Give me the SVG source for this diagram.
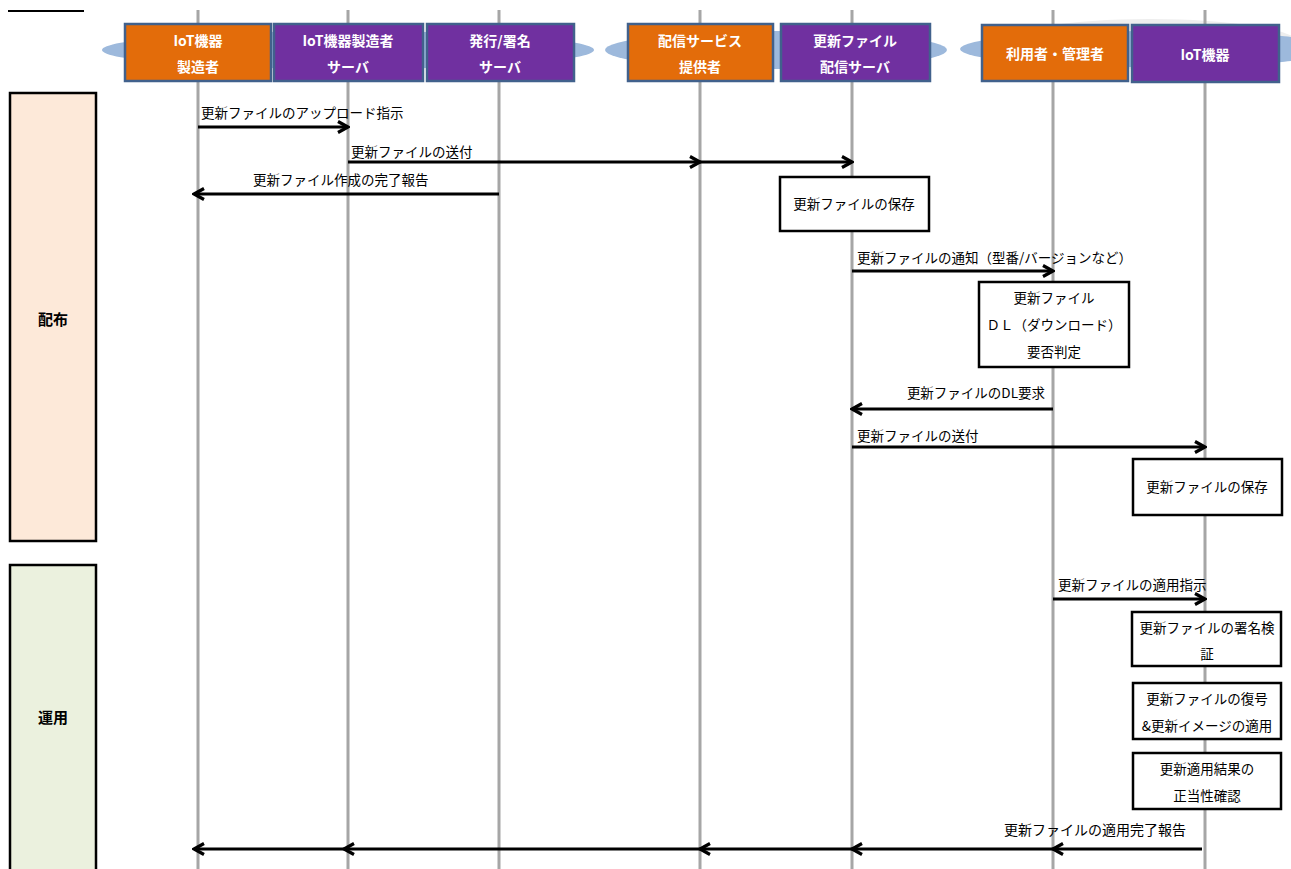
<svg xmlns="http://www.w3.org/2000/svg" width="1291" height="869" viewBox="0 0 1291 869">
  <defs>
    <marker id="arrow" viewBox="0 0 14 14" refX="12" refY="7" markerWidth="14" markerHeight="14" markerUnits="userSpaceOnUse" orient="auto">
      <path d="M2,1.5 L12,7 L2,12.5" fill="none" stroke="#000" stroke-width="3.2" stroke-linejoin="miter"/>
    </marker>
    <style>
      .lifeline { stroke: #A6A6A6; stroke-width: 3; }
      .band { fill: #9DB9DC; }
      .actor { stroke: #41618C; stroke-width: 2.5; }
      .org { fill: #E36C0A; }
      .sys { fill: #7030A0; }
      .hdr { font-family: "Noto Sans CJK JP", "Noto Sans", sans-serif; font-size: 14px; font-weight: bold; fill: #fff; text-anchor: middle; }
      .msg { stroke: #000; stroke-width: 3; fill: none; marker-end: url(#arrow); }
      .lbl { font-family: "Noto Sans CJK JP", "Noto Sans", sans-serif; font-size: 13.5px; fill: #000; }
      .step { fill: #fff; stroke: #000; stroke-width: 2.5; }
      .stxt { font-family: "Noto Sans CJK JP", "Noto Sans", sans-serif; font-size: 13.5px; fill: #000; text-anchor: middle; }
      .phase { stroke: #000; stroke-width: 2.5; }
      .ptxt { font-family: "Noto Sans CJK JP", "Noto Sans", sans-serif; font-size: 15px; font-weight: bold; fill: #000; text-anchor: middle; }
    </style>
  </defs>

  <!-- corner rule -->
  <line x1="8" y1="11" x2="84" y2="11" stroke="#000" stroke-width="2"/>

  <!-- phase panels -->
  <g id="phase-distribution">
    <rect class="phase" x="10" y="93" width="86" height="448" fill="#FDE9D9"/>
    <text class="ptxt" x="53" y="325">配布</text>
  </g>
  <g id="phase-operation">
    <rect class="phase" x="10" y="565" width="86" height="312" fill="#EBF1DE"/>
    <text class="ptxt" x="53" y="723">運用</text>
  </g>

  <!-- header bands -->
  <ellipse cx="1150" cy="44" rx="150" ry="25" fill="#EEEEEE"/>
  <ellipse class="band" cx="348" cy="50" rx="246" ry="19"/>
  <ellipse class="band" cx="776" cy="50" rx="171" ry="19"/>
  <ellipse class="band" cx="1150" cy="49" rx="190" ry="18"/>

  <!-- lifelines -->
  <g id="lifelines">
    <line class="lifeline" x1="198" y1="10" x2="198" y2="869"/>
    <line class="lifeline" x1="348" y1="10" x2="348" y2="869"/>
    <line class="lifeline" x1="499" y1="10" x2="499" y2="869"/>
    <line class="lifeline" x1="700" y1="10" x2="700" y2="869"/>
    <line class="lifeline" x1="852" y1="10" x2="852" y2="869"/>
    <line class="lifeline" x1="1053" y1="10" x2="1053" y2="869"/>
    <line class="lifeline" x1="1205" y1="10" x2="1205" y2="869"/>
  </g>

  <!-- participants -->
  <g id="actor-maker">
    <rect class="actor org" x="125" y="24" width="146" height="57"/>
    <text class="hdr" x="198" y="46">IoT機器</text>
    <text class="hdr" x="198" y="72">製造者</text>
  </g>
  <g id="actor-maker-server">
    <rect class="actor sys" x="274" y="24" width="149" height="57"/>
    <text class="hdr" x="348" y="46">IoT機器製造者</text>
    <text class="hdr" x="348" y="72">サーバ</text>
  </g>
  <g id="actor-sign-server">
    <rect class="actor sys" x="427" y="24" width="147" height="57"/>
    <text class="hdr" x="500" y="46">発行/署名</text>
    <text class="hdr" x="500" y="72">サーバ</text>
  </g>
  <g id="actor-provider">
    <rect class="actor org" x="628" y="24" width="145" height="57"/>
    <text class="hdr" x="700" y="46">配信サービス</text>
    <text class="hdr" x="700" y="72">提供者</text>
  </g>
  <g id="actor-dist-server">
    <rect class="actor sys" x="781" y="24" width="149" height="57"/>
    <text class="hdr" x="855" y="46">更新ファイル</text>
    <text class="hdr" x="855" y="72">配信サーバ</text>
  </g>
  <g id="actor-user">
    <rect class="actor org" x="982" y="25" width="146" height="56"/>
    <text class="hdr" x="1055" y="59">利用者・管理者</text>
  </g>
  <g id="actor-device">
    <rect class="actor sys" x="1132" y="25" width="147" height="57"/>
    <text class="hdr" x="1205" y="60">IoT機器</text>
  </g>

  <!-- processing steps -->
  <g id="step-store-server">
    <rect class="step" x="780" y="177" width="149" height="54"/>
    <text class="stxt" x="854" y="209">更新ファイルの保存</text>
  </g>
  <g id="step-dl-decision">
    <rect class="step" x="979" y="282" width="150" height="85"/>
    <text class="stxt" x="1054" y="303">更新ファイル</text>
    <text class="stxt" x="1054" y="330">ＤＬ（ダウンロード）</text>
    <text class="stxt" x="1054" y="357">要否判定</text>
  </g>
  <g id="step-store-device">
    <rect class="step" x="1133" y="459" width="149" height="56"/>
    <text class="stxt" x="1207" y="492">更新ファイルの保存</text>
  </g>
  <g id="step-verify">
    <rect class="step" x="1132" y="612" width="149" height="54"/>
    <text class="stxt" x="1207" y="633">更新ファイルの署名検</text>
    <text class="stxt" x="1207" y="659">証</text>
  </g>
  <g id="step-decrypt">
    <rect class="step" x="1133" y="683" width="148" height="56"/>
    <text class="stxt" x="1207" y="704">更新ファイルの復号</text>
    <text class="stxt" x="1207" y="731">&amp;更新イメージの適用</text>
  </g>
  <g id="step-confirm">
    <rect class="step" x="1133" y="753" width="148" height="56"/>
    <text class="stxt" x="1207" y="774">更新適用結果の</text>
    <text class="stxt" x="1207" y="801">正当性確認</text>
  </g>

  <!-- messages -->
  <g id="connectors">
    <line class="msg" x1="198" y1="127" x2="348" y2="127"/>
    <text class="lbl" x="201" y="118">更新ファイルのアップロード指示</text>

    <line class="msg" x1="348" y1="162" x2="700" y2="162"/>
    <line class="msg" x1="700" y1="162" x2="852" y2="162"/>
    <text class="lbl" x="351" y="157">更新ファイルの送付</text>

    <line class="msg" x1="499" y1="194" x2="194" y2="194"/>
    <text class="lbl" x="253" y="185">更新ファイル作成の完了報告</text>

    <line class="msg" x1="852" y1="271" x2="1053" y2="271"/>
    <text class="lbl" x="857" y="263">更新ファイルの通知（型番/バージョンなど）</text>

    <line class="msg" x1="1053" y1="409" x2="852" y2="409"/>
    <text class="lbl" x="1045" y="398" text-anchor="end">更新ファイルのDL要求</text>

    <line class="msg" x1="852" y1="447" x2="1205" y2="447"/>
    <text class="lbl" x="857" y="441">更新ファイルの送付</text>

    <line class="msg" x1="1053" y1="599" x2="1205" y2="599"/>
    <text class="lbl" x="1058" y="590">更新ファイルの適用指示</text>

    <line class="msg" x1="1202" y1="849" x2="1053" y2="849"/>
    <line class="msg" x1="1053" y1="849" x2="852" y2="849"/>
    <line class="msg" x1="852" y1="849" x2="700" y2="849"/>
    <line class="msg" x1="700" y1="849" x2="344" y2="849"/>
    <line class="msg" x1="344" y1="849" x2="194" y2="849"/>
    <text class="lbl" x="1095" y="835" text-anchor="middle" style="font-size:14px">更新ファイルの適用完了報告</text>
  </g>
</svg>
